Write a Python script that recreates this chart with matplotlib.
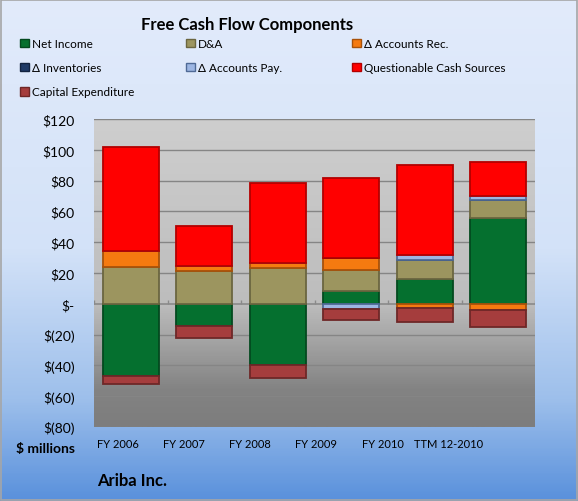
import matplotlib.pyplot as plt
import numpy as np
from matplotlib.colors import LinearSegmentedColormap
from matplotlib.patches import Patch

# data ($ millions)
categories = ['FY 2006', 'FY 2007', 'FY 2008', 'FY 2009', 'FY 2010', 'TTM 12-2010']
net_income = [-47, -14.5, -40, 8, 16, 55.5]
d_and_a = [24, 21.5, 23, 14, 12.5, 12]
d_acc_rec = [10, 3, 3.5, 7.5, -2.5, -4]
d_inventories = [0, 0, 0, 0, 0, 0]
d_acc_pay = [0, 0, 0, -3.5, 3, 2.5]
quest_cash = [68, 26, 52, 52, 58.5, 22]
capex = [-5, -7.5, -8, -7, -9.5, -11]

series = [
    ('Net Income', net_income, '#05702f', '#034a1f'),
    ('D&A', d_and_a, '#9c955f', '#6b6640'),
    ('Δ Accounts Rec.', d_acc_rec, '#f57a10', '#a8520a'),
    ('Δ Inventories', d_inventories, '#1f3a66', '#12233f'),
    ('Δ Accounts Pay.', d_acc_pay, '#9db6e3', '#4f6a96'),
    ('Questionable Cash Sources', quest_cash, '#ff0000', '#b30000'),
    ('Capital Expenditure', capex, '#a53d3d', '#6e2727'),
]

plt.rcParams['font.family'] = ['Lato', 'DejaVu Sans']

fig = plt.figure(figsize=(5.78, 5.02), dpi=100)

# blue gradient background of the whole chart
bg = fig.add_axes([0, 0, 1, 1], zorder=-10)
bg_cmap = LinearSegmentedColormap.from_list('bg', [(0, '#5a91dc'), (0.2, '#9dbfeb'),
                                                   (0.5, '#d3e2f8'), (1, '#e2ebfb')])
bg.imshow(np.linspace(1, 0, 200).reshape(-1, 1), cmap=bg_cmap, aspect='auto',
          extent=[0, 1, 0, 1], vmin=0, vmax=1)
bg.set_xlim(0, 1)
bg.set_ylim(0, 1)
bg.axis('off')
bg.add_patch(plt.Rectangle((0.001, 0.001), 0.998, 0.997, fill=False, ec='#a6a6a6', lw=1.2))

ax = fig.add_axes([94 / 578, 1 - 428 / 502, 441 / 578, 308 / 502])
ax.set_facecolor('none')
n = len(categories)
x = np.arange(n)

# grey gradient of the plot area
pa_cmap = LinearSegmentedColormap.from_list('pa', [(0, '#7d7d7d'), (0.12, '#838383'),
                                                   (0.4, '#bdbdbd'), (1, '#cecece')])
ax.imshow(np.linspace(1, 0, 200).reshape(-1, 1), cmap=pa_cmap, aspect='auto',
          extent=[-0.5, n - 0.5, -80, 120], vmin=0, vmax=1, zorder=0)

pos_base = np.zeros(n)
neg_base = np.zeros(n)
for name, vals, col, edge in series:
    v = np.array(vals, dtype=float)
    base = np.where(v >= 0, pos_base, neg_base)
    ax.bar(x, v, width=0.76, bottom=base, color=col, edgecolor=edge, linewidth=1.3, zorder=3)
    pos_base = pos_base + np.where(v > 0, v, 0)
    neg_base = neg_base + np.where(v < 0, v, 0)

ax.set_xlim(-0.5, n - 0.5)
ax.set_ylim(-80, 120)
yt = np.arange(-80, 121, 20)
ax.set_yticks(yt)
ax.set_yticklabels(['$-' if t == 0 else ('$(%d)' % -t if t < 0 else '$%d' % t) for t in yt],
                   fontsize=10)
ax.tick_params(axis='y', length=0, pad=14)
for t in yt:
    if t != 0:
        ax.axhline(t, color='#858585', lw=1, zorder=1)
ax.axhline(0, color='#8a8a8a', lw=1.2, zorder=2)
ax.vlines(np.arange(n + 1) - 0.5, 0, 2.2, color='#8a8a8a', lw=1, zorder=2)

# category labels sit a bit compressed to the left in the original
ax.set_xticks(-0.18 + 0.902 * x)
ax.set_xticklabels(categories, fontsize=8)
ax.tick_params(axis='x', length=0, pad=8)
for s in ax.spines.values():
    s.set_visible(False)

fig.text(247 / 578, 1 - 25 / 502, 'Free Cash Flow Components', ha='center', va='center',
         fontsize=12, fontweight='bold')
fig.text(75 / 578, 1 - 449 / 502, '$ millions', ha='right', va='center', fontsize=10,
         fontweight='bold')
fig.text(97 / 578, 1 - 481 / 502, 'Ariba Inc.', ha='left', va='center', fontsize=12,
         fontweight='bold')

# legend laid out in three columns, row-wise like the original
handles = [Patch(facecolor=c, edgecolor=e, lw=1) for _, _, c, e in series]
labels = [s[0] for s in series]
cols = [[0, 3, 6], [1, 4], [2, 5]]
col_x = [20, 186, 352]
for cx, idx in zip(col_x, cols):
    leg = fig.legend([handles[i] for i in idx], [labels[i] for i in idx], loc='upper left',
                     bbox_to_anchor=(cx / 578, 1 - 39 / 502), frameon=False, fontsize=8.5,
                     handlelength=0.75, handleheight=0.75, handletextpad=0.25,
                     labelspacing=1.12, borderpad=0, borderaxespad=0)

fig.savefig('out.png', dpi=100)
